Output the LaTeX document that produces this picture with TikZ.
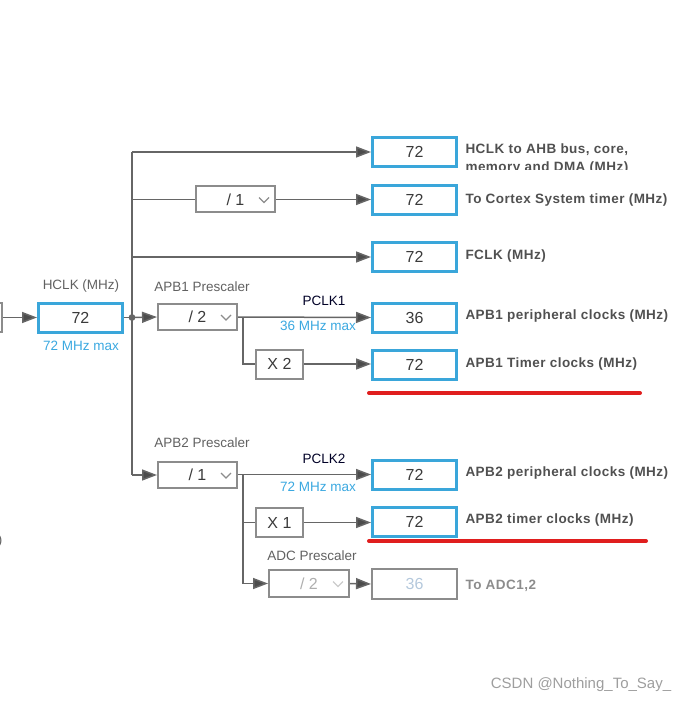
\documentclass[tikz,border=0pt]{standalone}
\usepackage{fontspec}
\setmainfont{Liberation Sans}
\newfontfamily\lblfont[LetterSpace=3.5]{Liberation Sans}
\usetikzlibrary{arrows.meta,calc}

\definecolor{cubeblue}{HTML}{3AA6DA}
\definecolor{maxcyan}{HTML}{3AA8E0}
\definecolor{boxgray}{HTML}{8C8C8C}
\definecolor{linegray}{HTML}{666666}
\definecolor{numgray}{HTML}{3A3A3A}
\definecolor{lblgray}{HTML}{505050}
\definecolor{paleblue}{HTML}{B4C8DC}
\definecolor{markred}{HTML}{E01E1E}

\newcommand{\presctext}[1]{#1\hspace{27pt}}

\tikzset{
  line/.style={draw=linegray, line width=1.5pt},
  arr/.style={line, -{Triangle[length=15pt,width=11pt,fill=linegray!75!black]}},
  valbox/.style={draw=cubeblue, line width=3pt, minimum width=84pt, minimum height=29pt,
    inner sep=0pt, text=numgray, font=\fontsize{16}{19}\selectfont},
  offbox/.style={valbox, draw=boxgray, line width=2pt, minimum width=85pt, minimum height=30pt, text=paleblue},
  presc/.style={draw=boxgray, line width=2pt, minimum width=79pt, minimum height=26pt,
    inner sep=0pt, text=numgray, font=\fontsize{16}{19}\selectfont},
  mulbox/.style={presc, minimum width=47pt, minimum height=29pt},
  chevron/.style={draw=boxgray, line width=1.3pt},
  outlbl/.style={anchor=west, text=lblgray, font=\lblfont\bfseries\fontsize{13.5}{18}\selectfont},
  small/.style={text=lblgray!90, font=\fontsize{13.5}{15}\selectfont},
  maxlbl/.style={small, text=maxcyan},
  redmark/.style={draw=markred, line width=4pt, line cap=round}
}

\begin{document}
\begin{tikzpicture}[x=1pt,y=-1pt]
  \clip (0,0) rectangle (687,703);

  % Source box cut off at the left edge
  \node[presc, minimum width=60pt, minimum height=29pt] (src) at (-28,317.5) {};
  \node[maxlbl, anchor=east] (srcmax) at (4,287) {max};
  \node[small, anchor=east] (srcmhz) at (6,541) {(MHz)};

  % HCLK box
  \node[valbox] (hclk) at (80.5,317.5) {72};
  \node[small] (hclklbl) at (81,286) {HCLK (MHz)};
  \node[maxlbl] (hclkmax) at (81,346) {72 MHz max};
  \draw[arr] (src.east) -- (hclk.west);

  % Output boxes
  \node[valbox] (ahb) at (414.5,152) {72};
  \node[valbox] (systick) at (414.5,200) {72};
  \node[valbox] (fclk) at (414.5,257) {72};
  \node[valbox] (apb1p) at (414.5,317.5) {36};
  \node[valbox] (apb1t) at (414.5,364.5) {72};
  \node[valbox] (apb2p) at (414.5,474.5) {72};
  \node[valbox] (apb2t) at (414.5,522) {72};
  \node[offbox] (adc) at (414.5,584) {36};

  % Prescalers and multipliers
  \node[presc] (div1) at (235.5,199.5) {\presctext{/ 1}};
  \node[presc] (apb1pre) at (197.5,317) {\presctext{/ 2}};
  \node[presc] (apb2pre) at (197.5,475) {\presctext{/ 1}};
  \node[presc, text=boxgray!70, minimum width=80pt, minimum height=27pt] (adcpre) at (309,583.5) {\presctext{/ 2}};
  \node[mulbox] (x2) at (279.5,364) {X 2};
  \node[mulbox] (x1) at (279.5,522.5) {X 1};
  \foreach \p in {div1,apb1pre,apb2pre}
    \draw[chevron] ($(\p.east)+(-17,-2)$) -- ++(5,5) -- ++(5,-5);
  \draw[chevron, draw=boxgray!45] ($(adcpre.east)+(-17,-2)$) -- ++(5,5) -- ++(5,-5);

  % Prescaler labels
  \node[small] (apb1lbl) at (202,287) {APB1 Prescaler};
  \node[small] (apb2lbl) at (202,443) {APB2 Prescaler};
  \node[small] (adclbl) at (312,556) {ADC Prescaler};
  \node[small, text=black!85!blue] (pclk1) at (324,301) {PCLK1};
  \node[maxlbl] (pclk1max) at (318,326) {36 MHz max};
  \node[small, text=black!85!blue] (pclk2) at (324,459) {PCLK2};
  \node[maxlbl] (pclk2max) at (318,487) {72 MHz max};

  % Trunk from HCLK
  \coordinate (dot) at (132,317.5);
  \coordinate (tAHB) at (132,152);
  \coordinate (tSys) at (132,199.5);
  \coordinate (tFclk) at (132,257);
  \coordinate (tAPB2) at (132,475);
  \draw[line] (tAHB) -- (tAPB2);
  \draw[line] (hclk.east) -- (dot);
  \fill[linegray] (dot) circle (3.4pt);
  \draw[arr] (tAHB) -- (ahb.west);
  \draw[line] (tSys) -- (div1.west);
  \draw[arr] (div1.east) -- (systick.west |- div1.east);
  \draw[arr] (tFclk) -- (fclk.west);
  \draw[arr] (dot) -- (apb1pre.west);
  \draw[arr] (tAPB2) -- (apb2pre.west);

  % APB1 outputs
  \coordinate (b1) at (243,317.5);
  \draw[arr] (apb1pre.east) -- (apb1p.west);
  \draw[line] (b1) |- (x2.west);
  \draw[arr] (x2.east) -- (apb1t.west |- x2.east);

  % APB2 outputs
  \coordinate (b2) at (243,474.5);
  \draw[arr] (apb2pre.east |- b2) -- (apb2p.west);
  \draw[line] (b2) |- (x1.west);
  \draw[arr] (b2) |- (adcpre.west);
  \draw[arr] (x1.east) -- (apb2t.west |- x1.east);
  \draw[arr] (adcpre.east) -- (adc.west);

  % Output labels
  \begin{scope}
    \clip (460,130) rectangle (687,170);
    \node[outlbl, align=left] (ahblbl) at (462,159) {HCLK to AHB bus, core,\\memory and DMA (MHz)};
  \end{scope}
  \node[outlbl] (systicklbl) at (462,200) {To Cortex System timer (MHz)};
  \node[outlbl] (fclklbl) at (462,256) {FCLK (MHz)};
  \node[outlbl] (apb1plbl) at (462,316) {APB1 peripheral clocks (MHz)};
  \node[outlbl] (apb1tlbl) at (462,364) {APB1 Timer clocks (MHz)};
  \node[outlbl] (apb2plbl) at (462,473) {APB2 peripheral clocks (MHz)};
  \node[outlbl] (apb2tlbl) at (462,520) {APB2 timer clocks (MHz)};
  \node[outlbl, text=boxgray] (adcoutlbl) at (462,586) {To ADC1,2};

  % Red underlines
  \draw[redmark] (369,393) -- (640,393);
  \draw[redmark] (369,541) -- (646,541);

  % Watermark
  \node[text=black!38, font=\fontsize{15}{18}\selectfont] (mark) at (581,685) {CSDN @Nothing\_To\_Say\_};
\end{tikzpicture}
\end{document}
